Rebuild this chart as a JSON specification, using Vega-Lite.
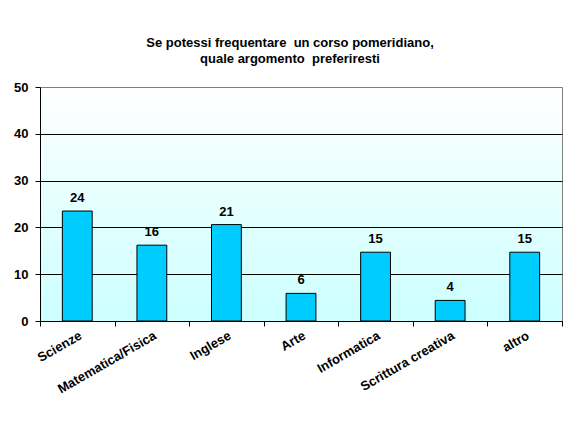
{
  "$schema": "https://vega.github.io/schema/vega-lite/v6.json",
  "autosize": "none",
  "width": 522,
  "height": 234,
  "padding": {"left": 40, "top": 87, "right": 19, "bottom": 115},
  "background": "#ffffff",
  "title": {
    "text": ["Se potessi frequentare\u00a0 un corso pomeridiano,", "quale argomento\u00a0 preferiresti"],
    "font": "Liberation Sans",
    "fontSize": 13,
    "fontWeight": "bold",
    "lineHeight": 16,
    "anchor": "middle",
    "dx": -11,
    "offset": 15,
    "color": "#000000"
  },
  "data": {
    "values": [
      {"argomento": "Scienze", "valore": 23.5},
      {"argomento": "Matematica/Fisica", "valore": 16.2},
      {"argomento": "Inglese", "valore": 20.6},
      {"argomento": "Arte", "valore": 5.9},
      {"argomento": "Informatica", "valore": 14.7},
      {"argomento": "Scrittura creativa", "valore": 4.4},
      {"argomento": "altro", "valore": 14.7}
    ]
  },
  "encoding": {
    "x": {
      "field": "argomento",
      "type": "nominal",
      "sort": null,
      "scale": {"paddingInner": 0, "paddingOuter": 0},
      "axis": {
        "title": null,
        "labelAngle": -30,
        "labelFont": "Liberation Sans",
        "labelFontSize": 13,
        "labelFontWeight": "bold",
        "labelColor": "#000000",
        "labelPadding": 3,
        "tickBand": "extent",
        "tickColor": "#000000",
        "tickSize": 5,
        "domainColor": "#000000",
        "grid": false
      }
    },
    "y": {
      "field": "valore",
      "type": "quantitative",
      "scale": {"domain": [0, 50]},
      "axis": {
        "title": null,
        "values": [0, 10, 20, 30, 40, 50],
        "labelFont": "Liberation Sans",
        "labelFontSize": 13,
        "labelFontWeight": "bold",
        "labelColor": "#000000",
        "labelPadding": 7,
        "tickColor": "#000000",
        "tickSize": 5,
        "domainColor": "#000000",
        "grid": true,
        "gridColor": {"condition": {"test": "datum.value == 50", "value": "#808080"}, "value": "#000000"},
        "gridOpacity": 1
      }
    }
  },
  "layer": [
    {
      "mark": {"type": "bar", "width": {"band": 0.4}, "color": "#00ccff", "stroke": "#000000", "strokeWidth": 1}
    },
    {
      "mark": {"type": "text", "baseline": "bottom", "dy": -6, "font": "Liberation Sans", "fontSize": 13, "fontWeight": "bold", "color": "#000000"},
      "encoding": {
        "text": {"field": "valore", "type": "quantitative", "format": ".0f"}
      }
    }
  ],
  "config": {
    "view": {
      "stroke": "#808080",
      "strokeWidth": 1,
      "fill": {
        "gradient": "linear",
        "x1": 0, "y1": 0, "x2": 0, "y2": 1,
        "stops": [
          {"offset": 0, "color": "#ffffff"},
          {"offset": 1, "color": "#ccffff"}
        ]
      }
    }
  }
}
